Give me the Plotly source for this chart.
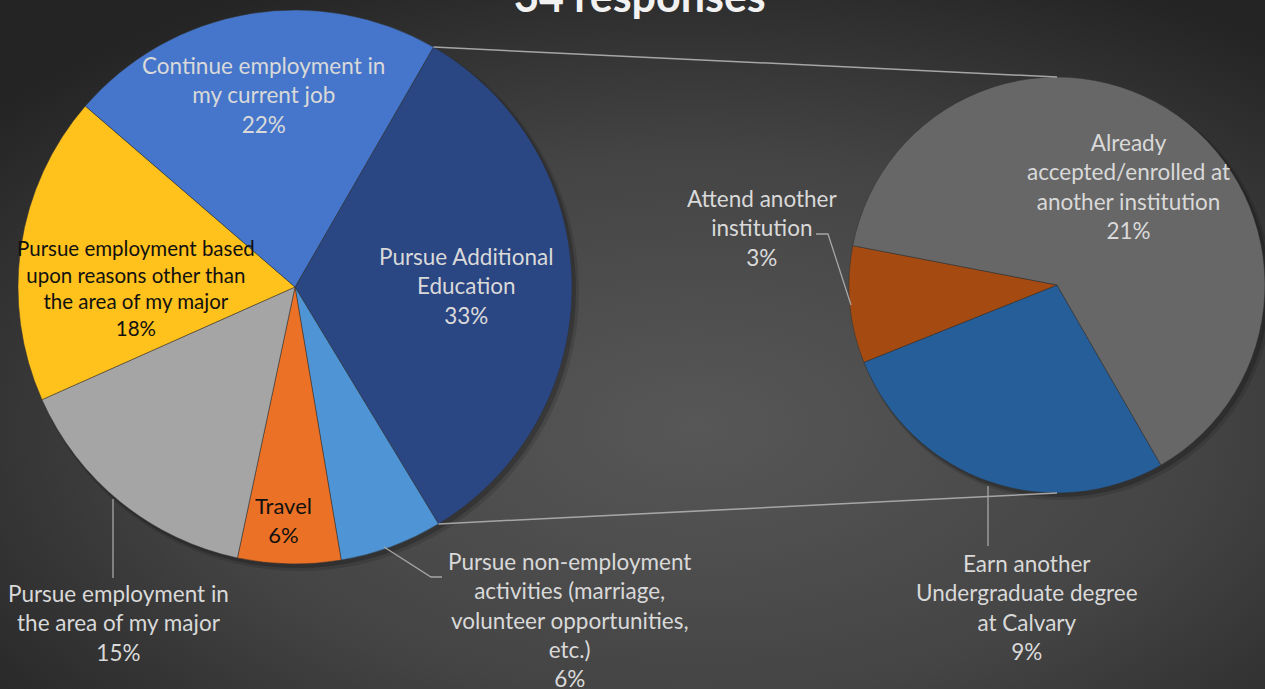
import base64
import math
import plotly.graph_objects as go

W, H = 1265, 689

# main pie (clockwise from the "other" slice)
main_labels = [
    "Pursue Additional Education",
    "Pursue non-employment activities (marriage, volunteer opportunities, etc.)",
    "Travel",
    "Pursue employment in the area of my major",
    "Pursue employment based upon reasons other than the area of my major",
    "Continue employment in my current job",
]
main_values = [33, 6, 6, 15, 18, 22]
main_colors = ["#2a4683", "#4f95d6", "#ea7125", "#a5a5a5", "#ffc11c", "#4576cb"]

# secondary pie: breakdown of "Pursue Additional Education"
sub_labels = [
    "Earn another Undergraduate degree at Calvary",
    "Attend another institution",
    "Already accepted/enrolled at another institution",
]
sub_values = [9, 3, 21]
sub_colors = ["#255e98", "#a54b12", "#676767"]

title_text = "34 responses"

# geometry in pixels
MAIN_C, MAIN_R = (295, 287), 277
SUB_C, SUB_R = (1057, 285), 208
MAIN_ROT = 30
SUB_ROT = 150

TXT = "#d9d9d9"
FONT = "Lato"


def px(x, y):
    return x / W, 1 - y / H


def domain(c, r):
    x0, y1 = px(c[0] - r, c[1] - r)
    x1, y0 = px(c[0] + r, c[1] + r)
    return dict(x=[x0, x1], y=[y0, y1])


def edge(c, r, ang):
    a = math.radians(ang)
    return c[0] + r * math.sin(a), c[1] - r * math.cos(a)


fig = go.Figure()

fig.add_trace(
    go.Pie(
        labels=main_labels,
        values=main_values,
        sort=False,
        direction="clockwise",
        rotation=MAIN_ROT,
        marker=dict(colors=main_colors, line=dict(color="#303030", width=0.5)),
        textinfo="none",
        domain=domain(MAIN_C, MAIN_R),
        showlegend=False,
    )
)
fig.add_trace(
    go.Pie(
        labels=sub_labels,
        values=sub_values,
        sort=False,
        direction="clockwise",
        rotation=SUB_ROT,
        marker=dict(colors=sub_colors, line=dict(color="#303030", width=0.5)),
        textinfo="none",
        domain=domain(SUB_C, SUB_R),
        showlegend=False,
    )
)

# background gradient
svg = (
    "<svg xmlns='http://www.w3.org/2000/svg' width='1265' height='689' preserveAspectRatio='none'>"
    "<defs><radialGradient id='g' cx='0.55' cy='0.62' r='0.72'>"
    "<stop offset='0' stop-color='#575757'/><stop offset='0.55' stop-color='#444444'/>"
    "<stop offset='1' stop-color='#242424'/></radialGradient></defs>"
    "<rect width='1265' height='689' fill='url(#g)'/></svg>"
)
bg = "data:image/svg+xml;base64," + base64.b64encode(svg.encode()).decode()

shapes = []
# pie shadows
for c, r in ((MAIN_C, MAIN_R), (SUB_C, SUB_R)):
    for k, op in ((7, 0.12), (4, 0.2)):
        x0, y1 = px(c[0] - r + 2, c[1] - r + 3)
        x1, y0 = px(c[0] + r + k, c[1] + r + k)
        shapes.append(dict(type="circle", xref="paper", yref="paper", x0=x0, x1=x1, y0=y0, y1=y1,
                           fillcolor=f"rgba(0,0,0,{op})", line=dict(width=0), layer="below"))

# connector lines between the two pies
other_span = main_values[0] / sum(main_values) * 360
p_top = edge(MAIN_C, MAIN_R, MAIN_ROT)
p_bot = edge(MAIN_C, MAIN_R, MAIN_ROT + other_span)
s_top = edge(SUB_C, SUB_R, 0)
s_bot = edge(SUB_C, SUB_R, 180)
for a, b in ((p_top, s_top), (p_bot, s_bot)):
    x0, y0 = px(*a)
    x1, y1 = px(*b)
    shapes.append(dict(type="line", xref="paper", yref="paper", x0=x0, y0=y0, x1=x1, y1=y1,
                       line=dict(color="#a6a6a6", width=1.5)))


def leader(points):
    path = ""
    for i, (x, y) in enumerate(points):
        fx, fy = px(x, y)
        path += ("M" if i == 0 else "L") + f"{fx},{fy} "
    return dict(type="path", xref="paper", yref="paper", path=path.strip(),
                line=dict(color="#a6a6a6", width=1.3))


shapes += [
    leader([(113, 499), (113, 578)]),
    leader([(384, 547), (431, 577), (442, 577)]),
    leader([(816, 234), (828, 234), (851, 305)]),
    leader([(988, 486), (988, 546)]),
]

annotations = []


def label(text, pct, x, y, color=TXT, size=22.5):
    fx, fy = px(x, y)
    annotations.append(dict(
        text=f"{text}<br>{pct}%", x=fx, y=fy, xref="paper", yref="paper",
        xanchor="center", yanchor="middle", showarrow=False, align="center",
        font=dict(family=FONT, size=size, color=color),
    ))


label("Continue employment in<br>my current job", main_values[5], 263, 95)
label("Pursue Additional<br>Education", main_values[0], 466, 286)
label("Pursue employment based<br>upon reasons other than<br>the area of my major", main_values[4], 136, 288,
      color="#111111", size=20.5)
label("Travel", main_values[2], 283, 520, color="#111111", size=22)
label("Pursue employment in<br>the area of my major", main_values[3], 118, 623)
label("Pursue non-employment<br>activities (marriage,<br>volunteer opportunities,<br>etc.)", main_values[1], 569, 620)
label("Attend another<br>institution", sub_values[1], 762, 228)
label("Already<br>accepted/enrolled at<br>another institution", sub_values[2], 1128, 186)
label("Earn another<br>Undergraduate degree<br>at Calvary", sub_values[0], 1027, 607)

tx, ty = px(640, -4)
annotations.append(dict(
    text=f"<b>{title_text}</b>", x=tx, y=ty, xref="paper", yref="paper",
    xanchor="center", yanchor="middle", showarrow=False,
    font=dict(family=FONT, size=43, color="#f2f2f2"),
))

fig.update_layout(
    width=W,
    height=H,
    margin=dict(l=0, r=0, t=0, b=0, pad=0),
    paper_bgcolor="#333333",
    plot_bgcolor="#333333",
    images=[dict(source=bg, xref="paper", yref="paper", x=0, y=1, sizex=1, sizey=1,
                 sizing="stretch", xanchor="left", yanchor="top", layer="below")],
    shapes=shapes,
    annotations=annotations,
)

fig.write_html("out.html", config=dict(displayModeBar=False),
               post_script="document.body.style.margin='0';")
